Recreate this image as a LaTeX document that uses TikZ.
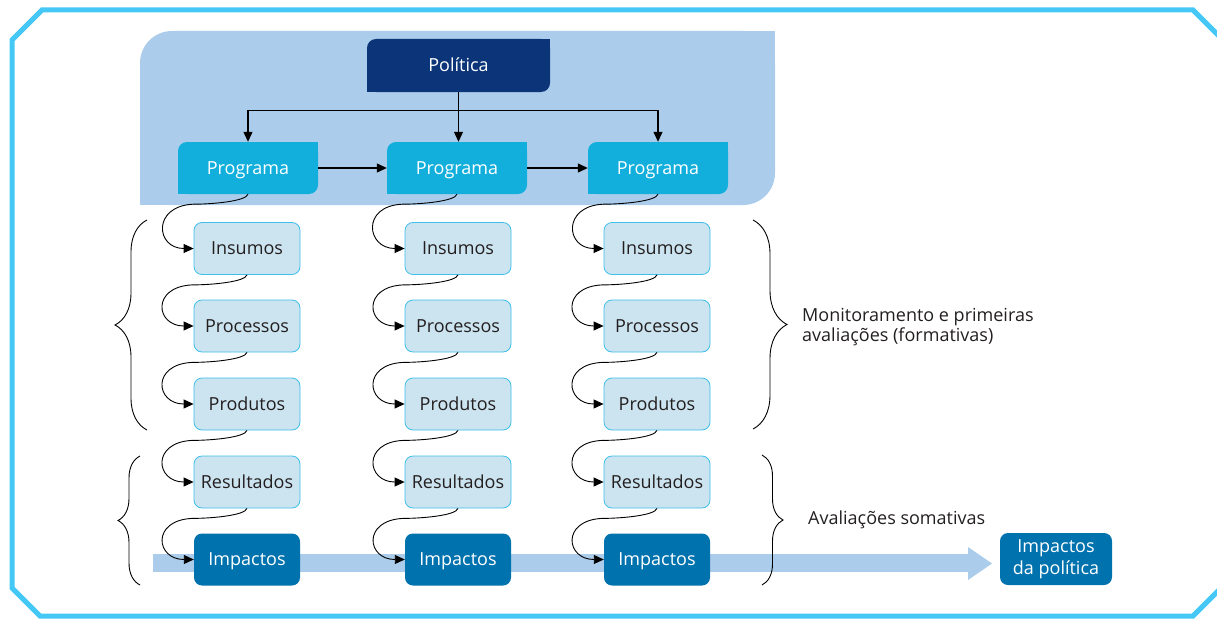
\documentclass[tikz,border=0pt]{standalone}
\usepackage{fontspec}
\setmainfont{Open Sans}
\usetikzlibrary{calc,arrows.meta,decorations.pathreplacing}
\definecolor{framecol}{HTML}{45C8F5}
\definecolor{bgblue}{HTML}{ABCDEB}
\definecolor{polblue}{HTML}{0B3479}
\definecolor{progblue}{HTML}{12AFDC}
\definecolor{lightbox}{HTML}{CCE4F0}
\definecolor{lightborder}{HTML}{3DBFE9}
\definecolor{impblue}{HTML}{0072AE}
\definecolor{txt}{HTML}{231F20}
\newcommand{\stagelink}[2]{\draw[curv] (#1.south) .. controls ($(#1.south)+(-2,7)$) and ($(#1.south)+(-35,10)$) .. ($(#1.south)+(-55,10)$) .. controls ($(#1.south)+(-96,12)$) and ($(#2.west)+(-38,0)$) .. (#2.west);}
\begin{document}
\begin{tikzpicture}[x=1pt,y=-1pt,
  every node/.style={font=\fontsize{18}{22}\selectfont},
  oneline/.style={text height=12.9pt, text depth=0pt},
  leaf/.style={inner sep=0pt, text=white, oneline, path picture={
     \fill[#1, rounded corners=9pt] (path picture bounding box.south west) rectangle (path picture bounding box.north east);
     \fill[#1] (path picture bounding box.north) rectangle (path picture bounding box.east);
     \fill[#1] (path picture bounding box.west) rectangle (path picture bounding box.south);}},
  polbox/.style={leaf=polblue, minimum width=183pt, minimum height=53pt},
  progbox/.style={leaf=progblue, minimum width=140pt, minimum height=52pt},
  stagebox/.style={draw=lightborder, line width=0.8pt, fill=lightbox, rounded corners=8pt, text=txt, minimum width=106pt, minimum height=52pt, inner sep=0pt, oneline},
  impbox/.style={fill=impblue, rounded corners=8pt, text=white, minimum width=106pt, minimum height=52pt, inner sep=0pt},
  arr/.style={draw=black, line width=1.2pt, -{Triangle[length=10pt,width=9pt]}},
  curv/.style={draw=black, line width=0.9pt, -{Triangle[length=10pt,width=9pt]}},
  bracestyle/.style={draw=black, line width=0.9pt, decorate, decoration={brace, amplitude=#1}},
  lbl/.style={inner sep=0pt, text=txt}
]
\useasboundingbox (0,0) rectangle (1217,618);
\begin{scope}
\clip (0,0) rectangle (1217,618);
\draw[framecol, line width=5pt] (1250,67) -- (1193,10) -- (42,10) -- (12,40) -- (12,588) -- (40,616) -- (1193,616) -- (1250,559);
\end{scope}
% background panel
\fill[bgblue, rounded corners=32pt] (140,31) rectangle (775,205);
\fill[bgblue] (500,31) rectangle (775,100);
\fill[bgblue] (140,120) rectangle (400,205);
% wide arrow
\fill[bgblue] (153,554) rectangle (968,572);
\fill[bgblue] (968,547) -- (992,563.5) -- (968,580) -- cycle;
% nodes
\node[polbox] (pol) at (458.5,65.5) {Política};
\node[progbox] (p1) at (248,168) {Programa};
\node[progbox] (p2) at (457,168) {Programa};
\node[progbox] (p3) at (658,168) {Programa};
\foreach \c/\x in {1/247,2/458,3/657}{
  \node[stagebox] (ins\c) at (\x,248.5) {Insumos};
  \node[stagebox] (pro\c) at (\x,326) {Processos};
  \node[stagebox] (prd\c) at (\x,404) {Produtos};
  \node[stagebox] (res\c) at (\x,482) {Resultados};
  \node[impbox, oneline] (imp\c) at (\x,559.5) {Impactos};
}
\node[impbox, minimum width=112pt, align=center] (ip) at (1056,559) {Impactos\\da política};
% arrows from policy
\draw[arr] (pol.south) -- ++(0,18) coordinate (j) -| (p1.north);
\draw[arr] (j) -- (j |- p2.north);
\draw[arr] (j) -| (p3.north);
\draw[arr] (p1.east) -- (p2.west);
\draw[arr] (p2.east) -- (p3.west);
% stage links
\foreach \c in {1,2,3}{
  \stagelink{p\c}{ins\c}
  \stagelink{ins\c}{pro\c}
  \stagelink{pro\c}{prd\c}
  \stagelink{prd\c}{res\c}
  \stagelink{res\c}{imp\c}
}
% braces
\draw[bracestyle=32pt] (147,430) -- (147,220);
\draw[bracestyle=22pt] (140,585) -- (140,456);
\draw[bracestyle=34pt] (753,220) -- (753,429);
\draw[bracestyle=21pt] (762,455) -- (762,585);
% labels
\node[lbl, anchor=west, align=left, font=\fontsize{18}{20}\selectfont] (mon) at (802,327.5) {Monitoramento e primeiras\\avaliações (formativas)};
\node[lbl, anchor=base west] (som) at (808,524) {Avaliações somativas};
\end{tikzpicture}
\end{document}
